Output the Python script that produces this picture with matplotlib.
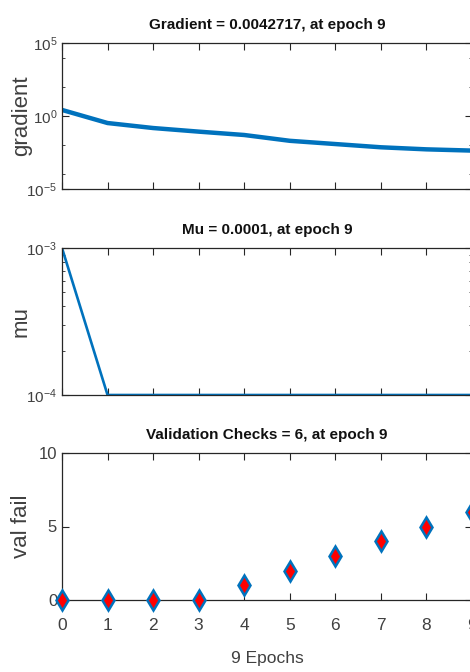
import matplotlib
matplotlib.use("Agg")
import matplotlib.pyplot as plt
import numpy as np
from matplotlib.ticker import FixedLocator, NullFormatter, LogFormatterSciNotation

epochs = [0, 1, 2, 3, 4, 5, 6, 7, 8, 9]
gradient = [2.6, 0.33, 0.15, 0.085, 0.05, 0.02, 0.012, 0.0072, 0.0052, 0.0042717]
mu = [1e-3, 1e-4, 1e-4, 1e-4, 1e-4, 1e-4, 1e-4, 1e-4, 1e-4, 1e-4]
val_fail = [0, 0, 0, 0, 1, 2, 3, 4, 5, 6]

titles = ["Gradient = 0.0042717, at epoch 9",
          "Mu = 0.0001, at epoch 9",
          "Validation Checks = 6, at epoch 9"]
ylabels = ["gradient", "mu", "val fail"]
xlabel = "9 Epochs"

plt.rcParams['font.family'] = ['Liberation Sans', 'DejaVu Sans']
plt.rcParams['mathtext.fontset'] = 'custom'
plt.rcParams['mathtext.rm'] = 'Liberation Sans'

BLUE = '#0072BD'
GRAY = '#404040'

fig = plt.figure(figsize=(4.70, 6.72), dpi=100)
left, width = 62/470, 410/470
rects = [(left, 1-189/672, width, 146/672),
         (left, 1-395/672, width, 147/672),
         (left, 1-600/672, width, 147/672)]
axes = [fig.add_axes(r) for r in rects]

def style(ax):
    for s in ax.spines.values():
        s.set_color('#262626')
        s.set_linewidth(0.9)
    ax.tick_params(which='both', direction='in', top=True, right=True, colors='#262626',
                   labelcolor=GRAY, labelsize=11)
    ax.tick_params(which='major', length=5)
    ax.tick_params(which='minor', length=2.5)
    ax.set_xlim(0, 9)
    ax.xaxis.set_major_locator(FixedLocator(epochs))

# Gradient
ax = axes[0]
ax.semilogy(epochs, gradient, color=BLUE, lw=3.2, solid_capstyle='butt')
ax.set_ylim(1e-5, 1e5)
ax.yaxis.set_major_locator(FixedLocator([1e-5, 1e0, 1e5]))
ax.yaxis.set_major_formatter(LogFormatterSciNotation())
ax.yaxis.set_minor_locator(FixedLocator([1e-4, 1e-2, 1e2, 1e4]))
ax.yaxis.set_minor_formatter(NullFormatter())
style(ax)
ax.tick_params(axis='x', labelbottom=False)

# Mu
ax = axes[1]
ax.semilogy(epochs, mu, color=BLUE, lw=1.9)
ax.set_ylim(1e-4, 1e-3)
ax.yaxis.set_major_locator(FixedLocator([1e-4, 1e-3]))
ax.yaxis.set_major_formatter(LogFormatterSciNotation())
ax.yaxis.set_minor_locator(FixedLocator([k*1e-4 for k in range(2, 10)]))
ax.yaxis.set_minor_formatter(NullFormatter())
style(ax)
ax.tick_params(axis='x', labelbottom=False)

# Val fail
ax = axes[2]
ax.plot(epochs, val_fail, linestyle='none', marker='d', markersize=10,
        markerfacecolor='red', markeredgecolor=BLUE, markeredgewidth=1.8, clip_on=False, zorder=5)
ax.set_ylim(0, 10)
ax.yaxis.set_major_locator(FixedLocator([0, 5, 10]))
style(ax)
ax.tick_params(axis='x', pad=13, labelsize=12.5)
ax.tick_params(axis='y', labelsize=12)
ax.set_xlabel(xlabel, fontsize=12.5, color=GRAY, labelpad=13)

for ax, t, yl in zip(axes, titles, ylabels):
    ax.set_title(t, fontsize=11, fontweight='bold', color='#111111', pad=10)
    ax.set_ylabel(yl, fontsize=16, color=GRAY)
    ax.yaxis.set_label_coords(-30/410, 0.5)

fig.savefig("out.png", dpi=100)
